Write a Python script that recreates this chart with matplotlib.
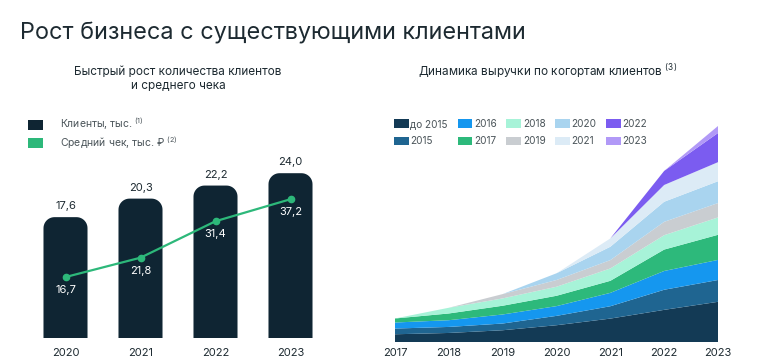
import matplotlib
matplotlib.use("Agg")
import numpy as np
import matplotlib.pyplot as plt
from matplotlib.patches import Patch, Polygon

plt.rcParams['font.family'] = ['Inter', 'DejaVu Sans']
plt.rcParams['mathtext.fontset'] = 'custom'
plt.rcParams['mathtext.rm'] = 'Inter'
plt.rcParams['mathtext.default'] = 'regular'

# left chart data
bar_years = ['2020', '2021', '2022', '2023']
clients = [17.6, 20.3, 22.2, 24.0]
avg_check = [16.7, 21.8, 31.4, 37.2]

# right chart data (revenue by cohort, arbitrary units)
years = [2017, 2018, 2019, 2020, 2021, 2022, 2023]
cohort_names = ['до 2015', '2015', '2016', '2017', '2018', '2019', '2020', '2021', '2022', '2023']
cohort_values = [
    [7.7, 9.0, 11.7, 16.7, 23.3, 32.0, 40.0],
    [5.7, 6.0, 6.7, 9.3, 12.3, 20.0, 21.7],
    [6.0, 6.7, 9.0, 9.7, 13.3, 18.7, 20.0],
    [4.0, 6.7, 8.7, 10.3, 12.0, 21.3, 25.0],
    [0, 5.7, 7.3, 9.0, 12.3, 14.3, 17.3],
    [0, 0, 4.3, 6.7, 8.3, 13.3, 14.3],
    [0, 0, 0, 6.7, 13.3, 20.0, 21.7],
    [0, 0, 0, 0, 8.3, 16.7, 19.0],
    [0, 0, 0, 0, 0, 14.0, 29.0],
    [0, 0, 0, 0, 0, 0, 7.0],
]
cohort_colors = ['#133a55', '#1f6591', '#1597ef', '#2db97b', '#a7f3d8',
                 '#c9cdd1', '#a9d4ef', '#dcebf6', '#7b5cf0', '#b199f7']

dark = '#0f2533'
green = '#2db87a'
text_col = '#1d2a31'
legend_col = '#4a5459'

W, H = 758, 364
fig = plt.figure(figsize=(W / 100, H / 100), dpi=100)


def px_axes(x0, y0, x1, y1):
    # pixel box (top-left origin) -> figure axes
    return fig.add_axes([x0 / W, 1 - y1 / H, (x1 - x0) / W, (y1 - y0) / H])


fig.text(20 / W, 1 - 33 / H, 'Рост бизнеса с существующими клиентами',
         fontsize=16.9, color=text_col, va='center', ha='left')

# ---------------- left chart ----------------
fig.text(178 / W, 1 - 79 / H, 'Быстрый рост количества клиентов\nи среднего чека',
         fontsize=8.5, color=text_col, ha='center', va='center', linespacing=1.25)

ax = px_axes(28, 132, 328, 338)
x = list(range(len(bar_years)))
bars = ax.bar(x, clients, width=0.587, color=dark)
ax.set_xlim(-0.5, 3.5)
ax.set_ylim(0, 30)

# rounded tops, ~11 px radius
x_per_px = 4 / 300
y_per_px = 30 / 206
rx, ry = 11 * x_per_px, 11 * y_per_px
t = np.linspace(0, np.pi / 2, 12)
for b in bars:
    b.set_visible(False)
    bx, by, bw, bh = b.get_x(), b.get_y(), b.get_width(), b.get_height()
    top = by + bh
    right_arc = np.column_stack([bx + bw - rx + rx * np.cos(t), top - ry + ry * np.sin(t)])
    left_arc = np.column_stack([bx + rx - rx * np.sin(t), top - ry + ry * np.cos(t)])
    pts = np.vstack([[[bx, by], [bx + bw, by]], right_arc, left_arc])
    ax.add_patch(Polygon(pts, closed=True, facecolor=dark, edgecolor='none'))

for xi, v in zip(x, clients):
    ax.annotate(('%.1f' % v).replace('.', ','), (xi, v), xytext=(0, 6),
                textcoords='offset pixels', ha='center', va='bottom',
                fontsize=8, color=text_col)

ax.set_xticks(x)
ax.set_xticklabels(bar_years, fontsize=8, color=text_col)
ax.tick_params(axis='x', length=0, pad=7)
ax.set_yticks([])
for s in ax.spines.values():
    s.set_visible(False)

ax2 = ax.twinx()
ax2.plot(x, avg_check, color=green, lw=1.6, marker='o', markersize=4.5)
ax2.set_ylim(0.65, 54.9)
for xi, v in zip(x, avg_check):
    ax2.annotate(('%.1f' % v).replace('.', ','), (xi, v), xytext=(0, -8),
                 textcoords='offset pixels', ha='center', va='top',
                 fontsize=8, color='white')
ax2.set_yticks([])
for s in ax2.spines.values():
    s.set_visible(False)

leg_handles = [Patch(facecolor=dark), Patch(facecolor=green)]
leg_labels = ['Клиенты, тыс. $^{(1)}$', 'Средний чек, тыс. ₽ $^{(2)}$']
fig.legend(leg_handles, leg_labels, loc='upper left',
           bbox_to_anchor=(28 / W, 1 - 116 / H), frameon=False, fontsize=7.5,
           handlelength=1.45, handleheight=1.0, handletextpad=1.6,
           labelspacing=0.15, borderpad=0, borderaxespad=0, labelcolor=legend_col)

# ---------------- right chart ----------------
fig.text(548 / W, 1 - 71 / H, 'Динамика выручки по когортам клиентов $^{(3)}$',
         fontsize=8.5, color=text_col, ha='center', va='center')

axr = px_axes(395, 126, 718, 342)
axr.stackplot(years, cohort_values, colors=cohort_colors, labels=cohort_names, lw=0)
total_2023 = sum(c[-1] for c in cohort_values)
axr.set_xlim(years[0], years[-1])
axr.set_ylim(0, total_2023)
axr.set_xticks(years)
axr.set_xticklabels([str(y) for y in years], fontsize=8, color=text_col)
axr.tick_params(axis='x', length=0, pad=4)
axr.set_yticks([])
for s in axr.spines.values():
    s.set_visible(False)

h, l = axr.get_legend_handles_labels()
fig.legend(h, l, loc='upper left', ncol=5, bbox_to_anchor=(394 / W, 1 - 119 / H),
           frameon=False, fontsize=7.2, handlelength=1.45, handleheight=0.95,
           handletextpad=0.2, columnspacing=0.95, labelspacing=0.75,
           borderpad=0, borderaxespad=0, labelcolor=legend_col)

fig.savefig('out.png', dpi=100)
